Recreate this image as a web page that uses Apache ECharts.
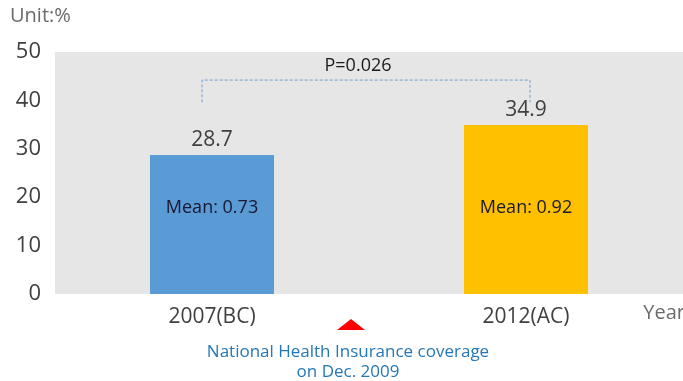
<!DOCTYPE html>
<html>
<head>
<meta charset="utf-8">
<script src="https://cdn.jsdelivr.net/npm/echarts@6/dist/echarts.min.js"></script>
<style>html,body{margin:0;padding:0;background:#fff;}#c{width:683px;height:381px;}</style>
</head>
<body>
<div id="c"></div>
<script>
var categories = ['2007(BC)', '2012(AC)'];
var values = [28.7, 34.9];
var means = [0.73, 0.92];
var barColors = ['#5b9bd5', '#ffc000'];
var yTicks = [0, 10, 20, 30, 40, 50];
var pText = 'P=0.026';
var noteLines = ['National Health Insurance coverage', 'on Dec. 2009'];
var FONT = '"Open Sans", "Noto Sans", sans-serif';

var chart = echarts.init(document.getElementById('c'));
chart.setOption({
  animation: false,
  grid: {left: 55, right: 0, top: 52, bottom: 87, show: true, backgroundColor: '#e6e6e6', borderWidth: 0},
  xAxis: {
    type: 'category', data: categories,
    axisLine: {show: false}, axisTick: {show: false},
    axisLabel: {color: '#404040', fontSize: 21, fontFamily: FONT, margin: 13}
  },
  yAxis: {
    type: 'value', min: yTicks[0], max: yTicks[yTicks.length - 1], interval: 10,
    splitLine: {show: false}, axisLine: {show: false}, axisTick: {show: false},
    axisLabel: {color: '#404040', fontSize: 22, fontFamily: FONT, margin: 14}
  },
  series: [{
    type: 'bar', barWidth: 124,
    data: values.map(function (v, i) { return {value: v, itemStyle: {color: barColors[i]}}; }),
    label: {show: true, position: 'top', distance: 5, color: '#404040', fontSize: 21, fontFamily: FONT}
  }]
});

function px(ci, v) { return chart.convertToPixel({gridIndex: 0}, [ci, v]); }
var g = [];
// Mean labels
means.forEach(function (m, i) {
  var p = px(i, 17.8);
  g.push({type: 'text', z: 100, x: p[0], y: p[1], style: {text: 'Mean: ' + m.toFixed(2), fill: '#181830', font: '18px ' + FONT, textAlign: 'center', textVerticalAlign: 'middle', verticalAlign: 'middle'}});
});
// bracket
var l0 = px(0, 39.6), lt = px(0, 44.2), r0 = px(1, 39.6), rt = px(1, 44.2);
var lx = l0[0] - 10, rx = r0[0] + 4;
g.push({type: 'polyline', z: 100, shape: {points: [[lx, l0[1]], [lx, lt[1]], [rx, rt[1]], [rx, r0[1]]]},
  style: {stroke: '#6f9fcf', lineWidth: 1, lineDash: [3, 2], fill: null}});
g.push({type: 'text', z: 100, x: (lx + rx) / 2 - 8, y: px(0, 47.2)[1], style: {text: pText, fill: '#1a1a1a', font: '18px ' + FONT, textAlign: 'center', textVerticalAlign: 'middle', verticalAlign: 'middle'}});
// Unit and Year
g.push({type: 'text', z: 100, left: 10, top: 6, style: {text: 'Unit:%', fill: '#6b6b6b', font: '20px ' + FONT}});
g.push({type: 'text', z: 100, right: -2, top: 303, style: {text: 'Year', fill: '#6b6b6b', font: '20px ' + FONT}});
// triangle + note
var mid = (px(0, 0)[0] + px(1, 0)[0]) / 2 - 18;
g.push({type: 'polygon', z: 100, shape: {points: [[mid - 14, 330], [mid, 319], [mid + 14, 330]]}, style: {fill: '#ff0000'}});
g.push({type: 'text', z: 100, x: mid - 3, y: 352, style: {text: noteLines[0], fill: '#2478b8', font: '17px ' + FONT, textAlign: 'center', textVerticalAlign: 'middle', verticalAlign: 'middle'}});
g.push({type: 'text', z: 100, x: mid - 3, y: 372, style: {text: noteLines[1], fill: '#2478b8', font: '17px ' + FONT, textAlign: 'center', textVerticalAlign: 'middle', verticalAlign: 'middle'}});
chart.setOption({graphic: g});
</script>
</body>
</html>
